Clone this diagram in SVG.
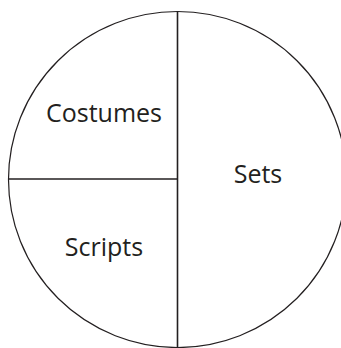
<svg xmlns="http://www.w3.org/2000/svg" width="341" height="348" viewBox="0 0 341 348">
<style>
.edge{fill:none;stroke:#231f20;stroke-width:1.2}
.div{fill:none;stroke:#231f20;stroke-width:1.6}
.lbl{font-family:"Open Sans","Noto Sans",sans-serif;font-size:25px;fill:#231f20;text-anchor:middle}
</style>
<rect width="341" height="348" fill="#ffffff"/>
<g id="pie">
<ellipse class="edge" cx="177.5" cy="179.5" rx="169" ry="168"/>
</g>
<g id="connectors">
<line class="div" x1="177.5" y1="11.5" x2="177.5" y2="347.5"/>
<line class="div" x1="8.5" y1="179" x2="177.5" y2="179"/>
</g>
<g id="costumes"><text class="lbl" x="104" y="122">Costumes</text></g>
<g id="scripts"><text class="lbl" x="104" y="256">Scripts</text></g>
<g id="sets"><text class="lbl" x="258" y="183">Sets</text></g>
</svg>
